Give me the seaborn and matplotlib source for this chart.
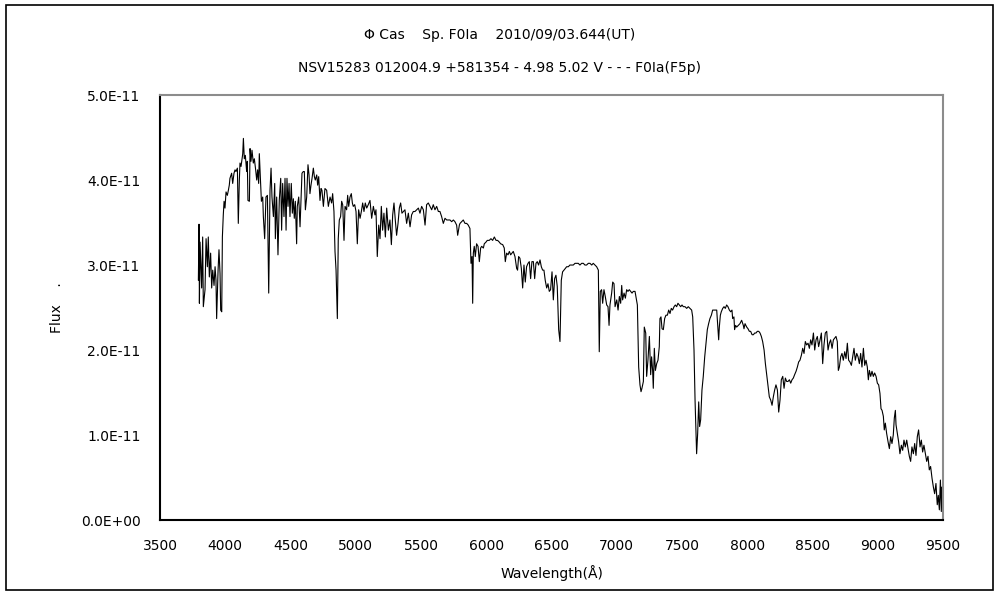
import numpy as np
import pandas as pd
import seaborn as sns
import matplotlib.pyplot as plt
from matplotlib.patches import Rectangle
from matplotlib.ticker import FuncFormatter

# spectrum: (wavelength [A], flux [1e-11])
SPEC_BLUE = [
    (3794, 2.82), (3799, 3.48), (3802, 2.55), (3807, 3.27), (3819, 2.73), (3827, 3.33),
    (3832, 2.51), (3845, 2.71), (3853, 3.31), (3863, 2.98), (3870, 3.33), (3878, 2.86),
    (3888, 3.14), (3896, 2.73), (3904, 2.94), (3914, 2.76), (3922, 2.98), (3929, 2.82),
    (3934, 2.37), (3945, 2.94), (3952, 3.18), (3960, 2.90), (3965, 2.47), (3973, 2.45),
    (3978, 3.33), (3985, 3.59), (3991, 3.75), (3998, 3.67), (4006, 3.86), (4016, 3.82),
    (4024, 3.88), (4031, 3.94), (4036, 4.02), (4049, 4.08), (4057, 3.96), (4067, 4.08),
    (4075, 4.12), (4082, 4.10), (4093, 4.14), (4100, 3.49), (4108, 4.00), (4113, 4.20),
    (4121, 4.16), (4134, 4.31), (4139, 4.49), (4146, 4.25), (4154, 4.29), (4164, 4.10),
    (4169, 4.22), (4174, 3.76), (4185, 3.75), (4190, 4.37), (4197, 4.22), (4205, 4.35),
    (4215, 4.20), (4223, 4.25), (4233, 4.12), (4241, 4.00), (4248, 4.12), (4256, 3.96),
    (4261, 4.31), (4271, 3.96), (4277, 3.75), (4287, 3.80), (4292, 3.57), (4302, 3.31),
    (4312, 3.80), (4323, 3.82), (4333, 2.67), (4343, 3.88), (4351, 4.14), (4358, 3.80),
    (4369, 3.57), (4379, 3.96), (4384, 3.31), (4394, 3.80), (4404, 3.12), (4414, 3.76),
    (4425, 4.02), (4432, 3.41), (4440, 3.96), (4450, 3.57), (4458, 4.02), (4466, 3.41),
    (4473, 4.02), (4481, 3.69), (4489, 3.96), (4496, 3.57), (4506, 3.96), (4514, 3.61),
    (4522, 3.78), (4529, 3.55), (4537, 3.75), (4547, 3.25), (4552, 3.69), (4563, 3.80),
    (4573, 3.45), (4580, 3.76), (4588, 4.08), (4598, 4.10), (4606, 4.10), (4614, 3.65),
    (4624, 3.80), (4634, 4.18), (4642, 4.06), (4649, 3.84), (4657, 3.94), (4665, 4.02),
    (4675, 4.14), (4683, 4.04), (4690, 4.00), (4701, 4.06), (4708, 3.94), (4716, 4.04),
    (4726, 3.76), (4734, 3.90), (4741, 3.88), (4752, 3.69), (4764, 3.90), (4777, 3.88),
    (4790, 3.69), (4803, 3.80),
]
SPEC_GREEN = [
    (4815, 3.73), (4823, 3.84), (4833, 3.63), (4841, 3.16), (4849, 2.94), (4859, 2.37),
    (4866, 3.31), (4874, 3.53), (4884, 3.57), (4892, 3.75), (4900, 3.71), (4910, 3.29),
    (4918, 3.69), (4930, 3.65), (4938, 3.82), (4946, 3.69), (4956, 3.80), (4966, 3.84),
    (4974, 3.73), (4981, 3.69), (4992, 3.71), (5002, 3.63), (5012, 3.25), (5022, 3.65),
    (5033, 3.55), (5043, 3.63), (5053, 3.73), (5063, 3.63), (5073, 3.73), (5084, 3.67),
    (5096, 3.71), (5109, 3.76), (5122, 3.55), (5135, 3.69), (5147, 3.59), (5155, 3.65),
    (5165, 3.10), (5176, 3.47), (5186, 3.31), (5196, 3.69), (5206, 3.41), (5216, 3.61),
    (5227, 3.33), (5237, 3.67), (5250, 3.41), (5262, 3.53), (5273, 3.24), (5283, 3.59),
    (5293, 3.73), (5303, 3.53), (5313, 3.35), (5324, 3.49), (5334, 3.67), (5344, 3.73),
    (5354, 3.61), (5365, 3.63), (5377, 3.65), (5390, 3.49), (5403, 3.61), (5416, 3.45),
    (5428, 3.59), (5441, 3.63), (5454, 3.63), (5467, 3.65), (5480, 3.67), (5492, 3.61),
    (5505, 3.69), (5518, 3.65), (5531, 3.47), (5543, 3.71), (5556, 3.73), (5569, 3.69),
    (5582, 3.65), (5594, 3.71), (5607, 3.65), (5620, 3.69), (5633, 3.63), (5645, 3.63),
    (5658, 3.57), (5671, 3.49), (5684, 3.55), (5697, 3.53), (5709, 3.53), (5722, 3.53),
    (5735, 3.51), (5748, 3.53), (5760, 3.51), (5773, 3.47), (5781, 3.35), (5794, 3.47),
]
SPEC_YELLOW = [
    (5799, 3.49), (5811, 3.51), (5824, 3.53), (5837, 3.49), (5850, 3.49), (5862, 3.47),
    (5875, 3.43), (5883, 3.02), (5891, 3.10), (5896, 2.55), (5901, 3.14), (5908, 3.22),
    (5916, 3.10), (5926, 3.25), (5937, 3.22), (5947, 3.04), (5957, 3.20), (5965, 3.22),
    (5978, 3.20), (5985, 3.25), (5998, 3.27), (6008, 3.29), (6023, 3.29), (6036, 3.31),
    (6049, 3.29), (6062, 3.33), (6075, 3.29), (6087, 3.29), (6100, 3.27), (6110, 3.25),
    (6126, 3.24), (6138, 3.20), (6146, 3.04), (6156, 3.14), (6167, 3.12), (6177, 3.16),
    (6187, 3.12), (6197, 3.14), (6207, 3.16), (6220, 3.10), (6233, 2.96), (6240, 2.94),
    (6248, 3.10), (6258, 3.08), (6269, 2.96), (6279, 2.73), (6289, 3.00), (6299, 2.80),
    (6309, 2.98), (6320, 3.02), (6330, 3.04), (6340, 2.84), (6350, 3.04), (6361, 3.04),
    (6371, 2.84), (6381, 3.02), (6391, 3.04), (6401, 3.00), (6412, 3.06), (6422, 2.98),
    (6432, 2.94), (6442, 2.94), (6452, 2.82), (6463, 2.73), (6473, 2.78), (6483, 2.69),
    (6493, 2.71), (6504, 2.92), (6514, 2.59), (6524, 2.84), (6534, 2.88), (6544, 2.75),
    (6555, 2.24), (6565, 2.10), (6575, 2.82), (6585, 2.92), (6596, 2.94), (6606, 2.96),
    (6616, 2.98), (6629, 2.98), (6641, 3.00), (6654, 3.00), (6667, 3.00), (6680, 3.02),
    (6693, 3.02), (6705, 3.02), (6718, 3.00), (6731, 3.02), (6744, 3.02), (6756, 3.00),
    (6769, 3.00), (6782, 3.02), (6795, 3.02), (6808, 3.00), (6820, 3.02), (6833, 3.00),
    (6846, 2.98), (6859, 2.94), (6866, 1.98),
]
SPEC_RED = [
    (6874, 2.69), (6884, 2.71), (6892, 2.55), (6902, 2.71), (6912, 2.63), (6923, 2.53),
    (6933, 2.51), (6941, 2.29), (6948, 2.53), (6961, 2.67), (6969, 2.80), (6979, 2.78),
    (6987, 2.51), (7000, 2.59), (7010, 2.47), (7020, 2.63), (7030, 2.55), (7038, 2.76),
    (7045, 2.59), (7056, 2.67), (7066, 2.61), (7076, 2.71), (7086, 2.69), (7096, 2.71),
    (7107, 2.69), (7117, 2.67), (7127, 2.69), (7140, 2.69), (7147, 2.63), (7158, 2.53),
    (7168, 1.80), (7178, 1.59), (7186, 1.51), (7193, 1.55), (7204, 1.63), (7211, 2.27),
    (7222, 2.20), (7229, 1.69), (7239, 1.88), (7250, 2.16), (7260, 1.71), (7267, 1.92),
    (7275, 1.76), (7280, 1.55), (7288, 2.02), (7296, 1.76), (7306, 1.84), (7316, 1.88),
    (7326, 2.04), (7331, 2.37), (7339, 2.39), (7347, 2.25), (7357, 2.24), (7367, 2.37),
    (7377, 2.41), (7388, 2.41), (7398, 2.47), (7408, 2.43), (7418, 2.49), (7428, 2.47),
    (7439, 2.51), (7449, 2.53), (7459, 2.51), (7469, 2.55), (7479, 2.53), (7490, 2.51),
    (7500, 2.53), (7510, 2.51), (7523, 2.51), (7536, 2.49), (7548, 2.51), (7561, 2.49),
    (7574, 2.47), (7582, 2.39), (7592, 2.00), (7600, 1.41), (7607, 1.02), (7612, 0.78),
    (7620, 1.02), (7628, 1.39), (7635, 1.10), (7643, 1.18), (7653, 1.53), (7663, 1.69),
    (7674, 1.92), (7684, 2.08), (7694, 2.24), (7704, 2.31), (7714, 2.37), (7725, 2.41),
    (7735, 2.47), (7745, 2.47), (7755, 2.47), (7766, 2.47), (7773, 2.31), (7781, 2.12),
    (7786, 2.27), (7794, 2.41), (7801, 2.45), (7812, 2.49), (7822, 2.51), (7832, 2.49),
    (7842, 2.53), (7852, 2.51), (7863, 2.47), (7873, 2.45), (7883, 2.47), (7888, 2.37),
    (7898, 2.39), (7903, 2.24), (7911, 2.29), (7919, 2.27), (7932, 2.29), (7944, 2.31),
]
SPEC_IR = [
    (7957, 2.35), (7970, 2.29), (7975, 2.25), (7983, 2.31), (7996, 2.27), (8006, 2.25),
    (8016, 2.22), (8026, 2.22), (8037, 2.18), (8047, 2.18), (8057, 2.20), (8067, 2.20),
    (8077, 2.22), (8088, 2.22), (8098, 2.20), (8108, 2.16), (8118, 2.10), (8129, 2.00),
    (8139, 1.84), (8149, 1.71), (8159, 1.59), (8169, 1.45), (8180, 1.41), (8190, 1.35),
    (8200, 1.45), (8210, 1.53), (8220, 1.59), (8231, 1.53), (8241, 1.27), (8251, 1.41),
    (8261, 1.65), (8272, 1.69), (8282, 1.55), (8292, 1.67), (8302, 1.63), (8312, 1.63),
    (8323, 1.65), (8333, 1.61), (8343, 1.65), (8353, 1.67), (8363, 1.71), (8374, 1.75),
    (8384, 1.80), (8394, 1.86), (8404, 1.88), (8415, 1.94), (8425, 2.02), (8435, 1.96),
    (8445, 2.10), (8455, 2.06), (8466, 2.08), (8476, 2.02), (8486, 2.12), (8496, 2.06),
    (8507, 2.20), (8517, 2.00), (8527, 2.12), (8537, 2.16), (8547, 2.04), (8558, 2.12),
    (8568, 2.20), (8578, 1.84), (8588, 2.06), (8598, 2.20), (8609, 2.22), (8619, 2.00),
    (8629, 2.08), (8639, 2.12), (8650, 2.02), (8660, 2.12), (8670, 2.14), (8680, 2.16),
    (8690, 2.10), (8698, 1.76), (8706, 1.80), (8716, 1.92), (8726, 1.96), (8736, 1.88),
    (8747, 1.98), (8757, 1.90), (8767, 2.08), (8777, 1.88), (8787, 1.86), (8798, 1.82),
    (8808, 1.92), (8818, 2.02), (8828, 1.88), (8839, 1.96), (8849, 1.92), (8859, 1.84),
    (8869, 1.96), (8879, 1.80), (8890, 2.02), (8900, 1.82), (8910, 1.88), (8920, 1.80),
    (8928, 1.65), (8936, 1.76), (8946, 1.69), (8956, 1.75), (8966, 1.69), (8976, 1.73),
    (8987, 1.69), (8997, 1.61), (9007, 1.59), (9017, 1.49), (9025, 1.31), (9033, 1.29),
    (9043, 1.22), (9050, 1.06), (9058, 1.14), (9068, 1.02), (9079, 0.92), (9089, 0.84),
    (9099, 0.98), (9109, 0.90), (9119, 1.00), (9127, 1.20), (9135, 1.29), (9140, 1.12),
    (9150, 1.02), (9160, 0.92), (9170, 0.78), (9181, 0.88), (9191, 0.82), (9201, 0.94),
    (9211, 0.86), (9222, 0.94), (9232, 0.84), (9242, 0.75), (9252, 0.69), (9262, 0.86),
    (9273, 0.78), (9283, 0.90), (9293, 0.76), (9303, 0.98), (9313, 1.06), (9324, 0.86),
    (9334, 0.94), (9344, 0.80), (9354, 0.88), (9365, 0.78), (9375, 0.69), (9385, 0.75),
    (9395, 0.59), (9405, 0.63), (9416, 0.49), (9426, 0.39), (9436, 0.31), (9446, 0.43),
    (9456, 0.18), (9464, 0.29), (9472, 0.12), (9480, 0.47), (9487, 0.10), (9493, 0.39),
    (9497, 0.27), (9500, 0.35),
]
FLUX_UNIT = 1e-11

TITLE = "Φ Cas    Sp. F0Ia    2010/09/03.644(UT)"
SUBTITLE = "NSV15283 012004.9 +581354 - 4.98 5.02 V - - - F0Ia(F5p)"
X_TICKS = list(range(3500, 9501, 500))
Y_TICKS = [0, 1e-11, 2e-11, 3e-11, 4e-11, 5e-11]

points = SPEC_BLUE + SPEC_GREEN + SPEC_YELLOW + SPEC_RED + SPEC_IR
df = pd.DataFrame(points, columns=["wavelength", "flux"])
df["flux"] = df["flux"] * FLUX_UNIT

sns.set_theme(style="white")
plt.rcParams["font.family"] = ["DejaVu Sans", "Noto Sans CJK JP"]
plt.rcParams["text.color"] = "black"
plt.rcParams["axes.labelcolor"] = "black"
plt.rcParams["xtick.color"] = "black"
plt.rcParams["ytick.color"] = "black"

fig = plt.figure(figsize=(10, 6), dpi=100)
fig.patch.set_facecolor("white")
# outer frame round the whole chart
fig.add_artist(Rectangle((0.006, 0.017), 0.987, 0.975, transform=fig.transFigure,
                         fill=False, edgecolor="black", linewidth=1.2))

ax = fig.add_axes([0.16, 0.1333, 0.783, 0.7083])
sns.lineplot(data=df, x="wavelength", y="flux", ax=ax, color="black",
             linewidth=0.8, estimator=None, sort=False)

ax.set_xlim(3500, 9500)
ax.set_ylim(0, 5e-11)
ax.set_xticks(X_TICKS)
ax.set_yticks(Y_TICKS)
ax.yaxis.set_major_formatter(FuncFormatter(lambda v, p: "{:.1E}".format(v)))
ax.tick_params(axis="both", direction="in", length=5, width=1, colors="black",
               labelsize=10, pad=14)

for side in ("left", "bottom"):
    ax.spines[side].set_color("black")
    ax.spines[side].set_linewidth(1.5)
for side in ("top", "right"):
    ax.spines[side].set_color("#8c8c8c")
    ax.spines[side].set_linewidth(1.5)

ax.set_xlabel("Wavelength(Å)", fontsize=10, labelpad=8)
ax.set_ylabel("Flux    .", fontsize=10)
ax.yaxis.set_label_coords(-0.123, 0.5)

fig.text(0.5, 0.9417, TITLE, ha="center", va="center", fontsize=10)
fig.text(0.5, 0.887, SUBTITLE, ha="center", va="center", fontsize=10)

fig.savefig("out.png", dpi=100, facecolor="white")
